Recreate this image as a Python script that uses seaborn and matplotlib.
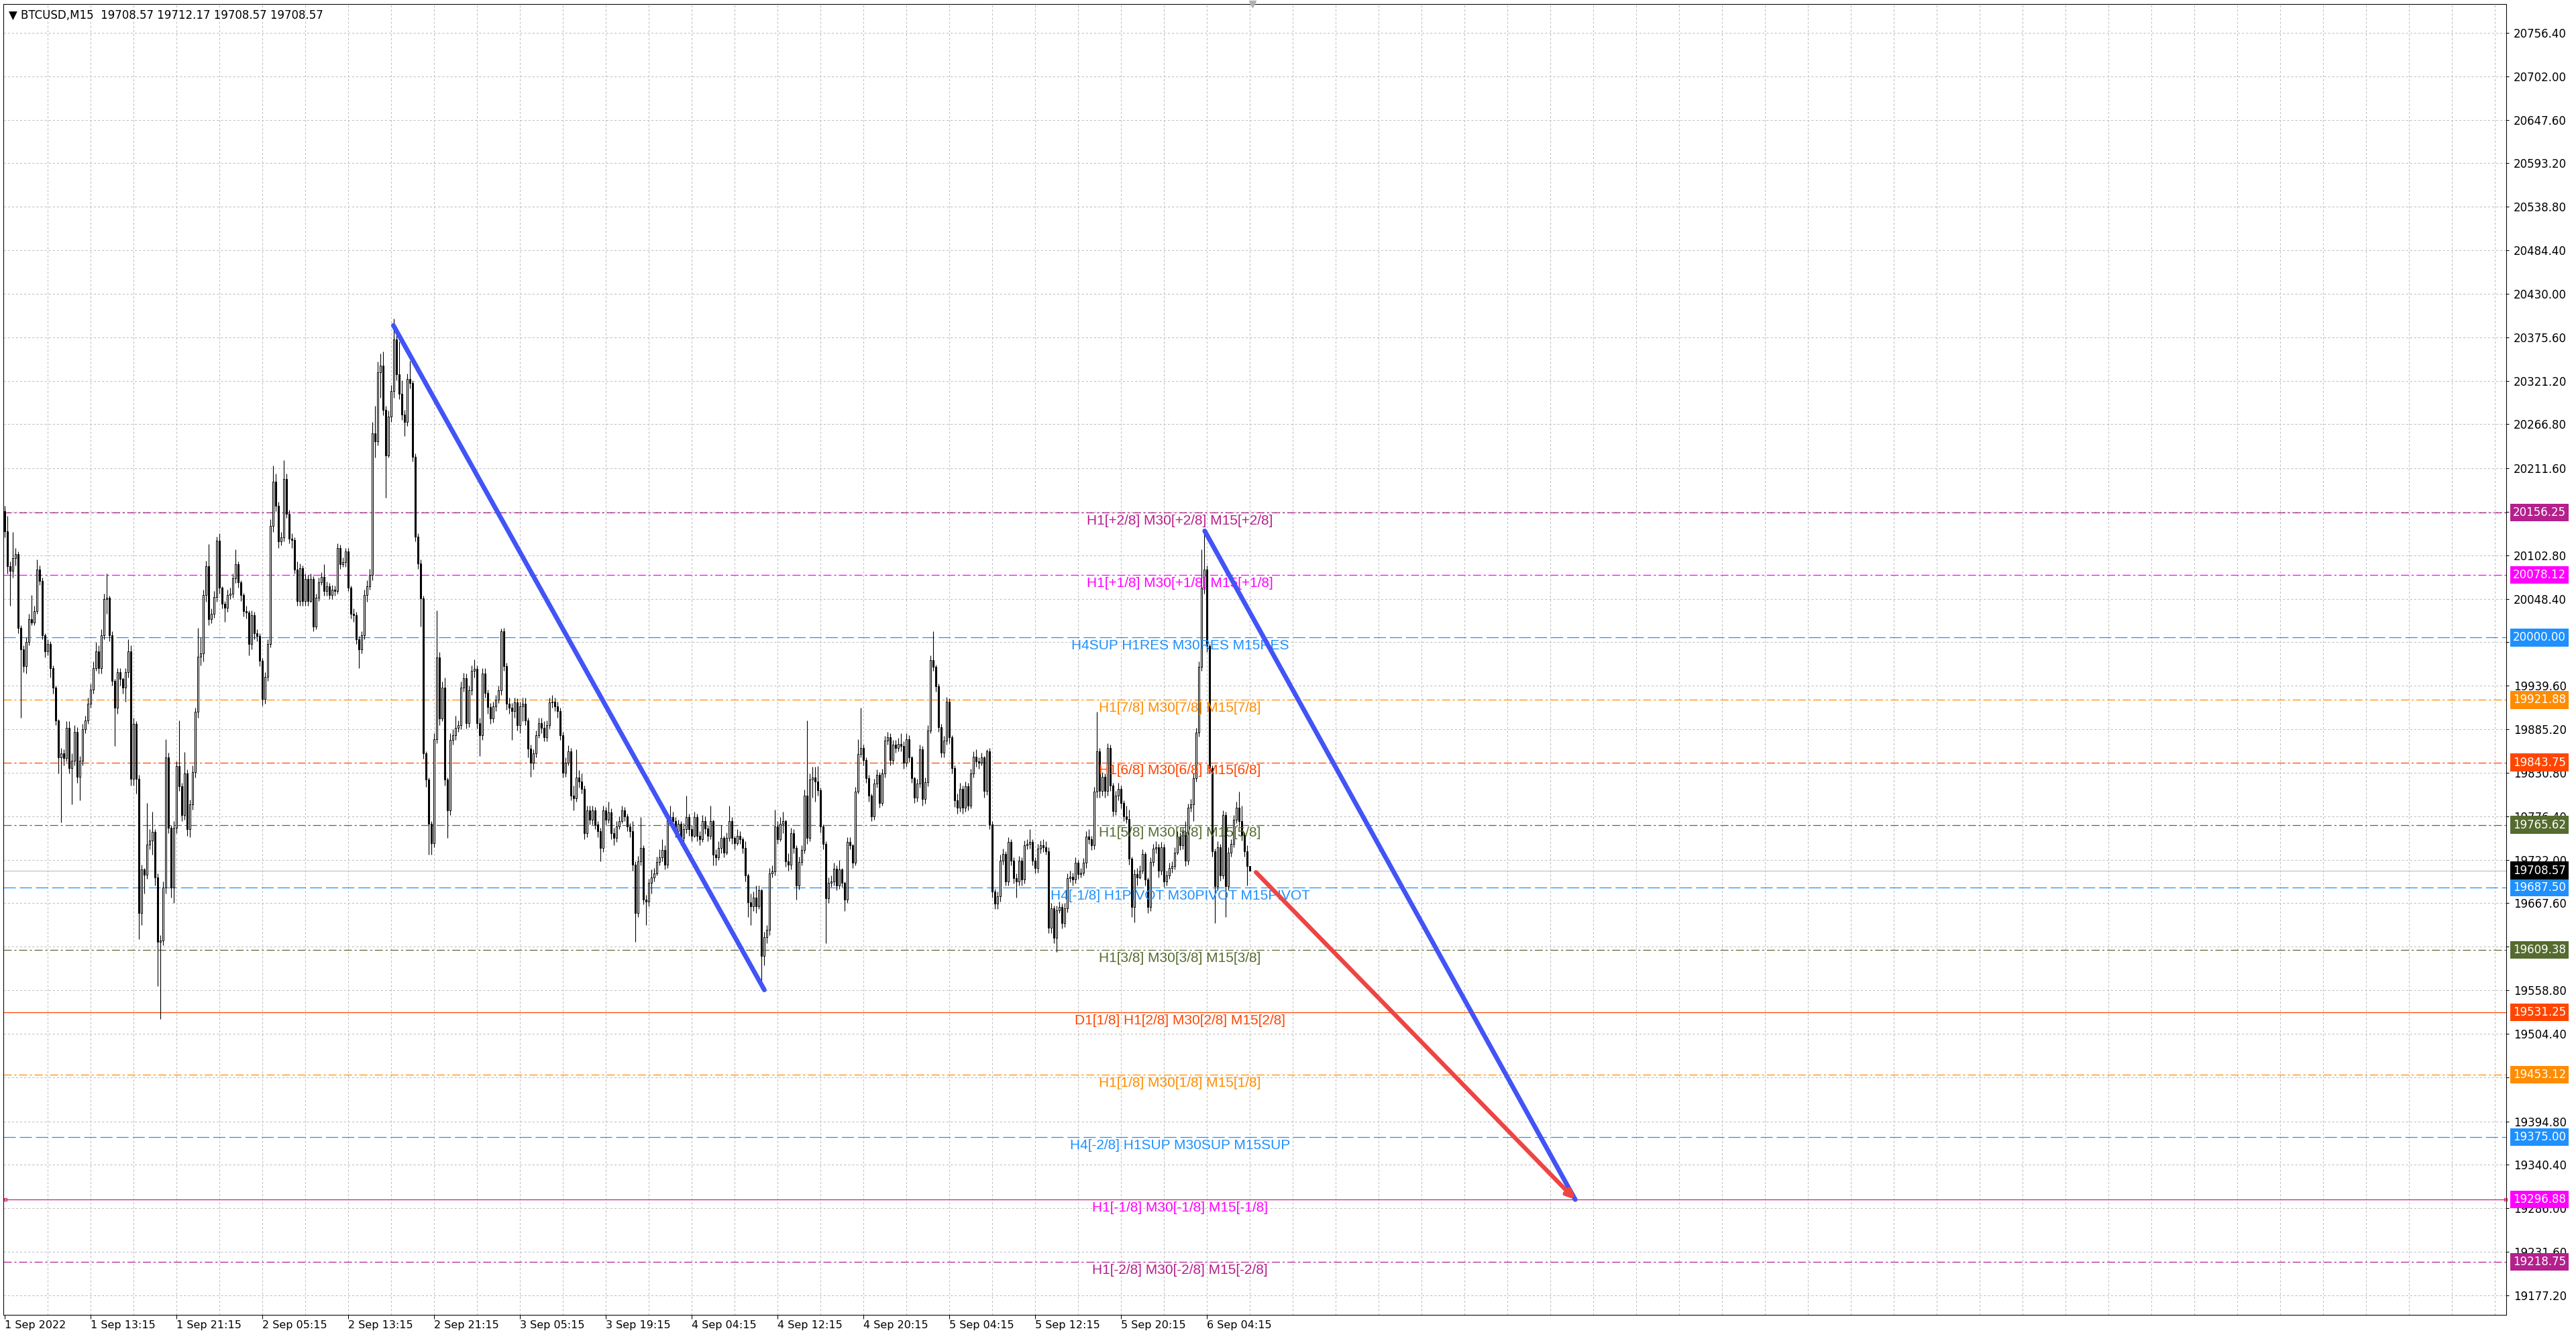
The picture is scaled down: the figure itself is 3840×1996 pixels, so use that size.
import numpy as np
import pandas as pd
import matplotlib.pyplot as plt
import seaborn as sns

sns.set_theme(style="white")
plt.rcParams['font.family'] = ['DejaVu Sans']
plt.rcParams['lines.scale_dashes'] = False

# ---- BTCUSD M15 candles ----
first_open = 20158
closes = [
    20133, 20089, 20083, 20099, 20104, 20012, 19985, 19964, 19994, 20023,
    20019, 20033, 20085, 20071, 20003, 19983, 19992, 19962, 19937, 19896,
    19850, 19855, 19849, 19887, 19837, 19846, 19882, 19826, 19846, 19885,
    19896, 19917, 19935, 19962, 19983, 19962, 20003, 20048, 20050, 20003,
    19946, 19912, 19957, 19948, 19937, 19957, 19983, 19823, 19892, 19823,
    19655, 19710, 19703, 19741, 19746, 19757, 19700, 19619, 19621, 19687,
    19850, 19762, 19687, 19762, 19839, 19814, 19778, 19830, 19760, 19791,
    19832, 19907, 19976, 19980, 20053, 20089, 20023, 20030, 20051, 20121,
    20062, 20042, 20037, 20053, 20055, 20074, 20092, 20069, 20053, 20033,
    20031, 19992, 20028, 20005, 20002, 19971, 19923, 19951, 19992, 20140,
    20195, 20165, 20120, 20125, 20198, 20155, 20124, 20122, 20085, 20046,
    20087, 20046, 20073, 20046, 20073, 20014, 20050, 20069, 20076, 20058,
    20064, 20053, 20060, 20058, 20112, 20092, 20094, 20108, 20062, 20030,
    20028, 19998, 19985, 20003, 20053, 20064, 20078, 20255, 20245, 20332,
    20340, 20285, 20228, 20276, 20308, 20373, 20329, 20305, 20279, 20270,
    20323, 20318, 20226, 20126, 20093, 20049, 19855, 19822, 19767, 19743,
    19873, 19975, 19899, 19937, 19822, 19784, 19872, 19878, 19887, 19890,
    19937, 19949, 19893, 19934, 19958, 19961, 19893, 19878, 19955, 19931,
    19913, 19899, 19914, 19922, 19934, 20008, 19964, 19917, 19912, 19908,
    19919, 19890, 19914, 19917, 19896, 19861, 19843, 19855, 19878, 19893,
    19887, 19875, 19890, 19919, 19920, 19914, 19908, 19878, 19831, 19843,
    19858, 19802, 19799, 19825, 19820, 19811, 19755, 19784, 19772, 19784,
    19766, 19758, 19737, 19784, 19772, 19781, 19755, 19749, 19764, 19770,
    19784, 19776, 19764, 19758, 19716, 19655, 19720, 19737, 19672, 19670,
    19693, 19700, 19705, 19719, 19725, 19734, 19716, 19772, 19775, 19770,
    19758, 19767, 19749, 19760, 19775, 19760, 19752, 19775, 19752, 19748,
    19770, 19761, 19752, 19770, 19728, 19725, 19737, 19749, 19731, 19749,
    19770, 19749, 19743, 19752, 19748, 19737, 19702, 19669, 19664, 19675,
    19664, 19684, 19602, 19625, 19634, 19705, 19707, 19764, 19748, 19767,
    19770, 19720, 19716, 19755, 19737, 19690, 19719, 19734, 19802, 19749,
    19822, 19825, 19820, 19809, 19764, 19742, 19674, 19693, 19695, 19711,
    19690, 19710, 19693, 19672, 19744, 19740, 19718, 19807, 19854, 19862,
    19847, 19824, 19802, 19776, 19817, 19828, 19793, 19830, 19871, 19875,
    19847, 19866, 19862, 19867, 19864, 19843, 19873, 19850, 19824, 19800,
    19817, 19860, 19798, 19819, 19884, 19972, 19963, 19939, 19888, 19856,
    19871, 19920, 19875, 19837, 19796, 19787, 19811, 19787, 19814, 19790,
    19830, 19851, 19845, 19843, 19850, 19808, 19858, 19766, 19682, 19667,
    19676, 19721, 19729, 19695, 19744, 19721, 19699, 19695, 19721, 19697,
    19740, 19742, 19744, 19721, 19712, 19736, 19740, 19738, 19733, 19637,
    19661, 19624, 19659, 19663, 19643, 19661, 19699, 19701, 19697, 19718,
    19704, 19706, 19718, 19751, 19748, 19740, 19807, 19858, 19808, 19826,
    19808, 19862, 19815, 19783, 19802, 19811, 19793, 19776, 19773, 19723,
    19663, 19704, 19700, 19708, 19729, 19697, 19663, 19719, 19736, 19738,
    19708, 19738, 19695, 19702, 19712, 19714, 19731, 19751, 19740, 19757,
    19721, 19787, 19791, 19824, 19881, 19963, 20062, 20085, 19989, 19837,
    19733, 19689, 19738, 19702, 19778, 19689, 19731, 19742, 19772, 19787,
    19770, 19753, 19733, 19714, 19708.57,
]
highs = [
    20165, 20152, 20095, 20132, 20112, 20108, 20015, 19990, 20000, 20030,
    20053, 20040, 20098, 20090, 20075, 20005, 19998, 19995, 19965, 19940,
    19898, 19862, 19860, 19895, 19895, 19855, 19890, 19888, 19852, 19892,
    19902, 19925, 19942, 19970, 19994, 19990, 20010, 20055, 20080, 20052,
    20008, 19948, 19962, 19962, 19950, 19962, 19998, 19990, 19900, 19895,
    19828, 19716, 19712, 19793, 19760, 19782, 19760, 19705, 19628, 19695,
    19873, 19856, 19765, 19770, 19845, 19896, 19818, 19857, 19835, 19797,
    19840, 19912, 20012, 20000, 20060, 20096, 20117, 20036, 20058, 20126,
    20130, 20064, 20046, 20060, 20062, 20080, 20110, 20095, 20072, 20056,
    20040, 20034, 20034, 20032, 20010, 20005, 19974, 19957, 19998, 20148,
    20215, 20205, 20170, 20132, 20222, 20205, 20160, 20130, 20125, 20095,
    20093, 20090, 20080, 20078, 20080, 20077, 20055, 20075, 20082, 20092,
    20070, 20068, 20066, 20065, 20118, 20116, 20100, 20112, 20112, 20065,
    20036, 20032, 20002, 20008, 20060, 20072, 20086, 20270, 20290, 20345,
    20355, 20358, 20290, 20284, 20316, 20399, 20385, 20370, 20322, 20285,
    20330, 20346, 20322, 20230, 20130, 20098, 20052, 19858, 19825, 19770,
    19880, 20034, 19982, 19945, 19950, 19825, 19880, 19885, 19902, 19896,
    19945, 19956, 19955, 19940, 19965, 19973, 19965, 19900, 19962, 19962,
    19935, 19918, 19920, 19928, 19940, 20011, 20012, 19968, 19925, 19918,
    19925, 19924, 19920, 19925, 19925, 19900, 19866, 19860, 19884, 19900,
    19900, 19895, 19896, 19925, 19928, 19925, 19920, 19912, 19882, 19850,
    19865, 19862, 19815, 19860, 19834, 19830, 19815, 19790, 19790, 19790,
    19788, 19770, 19762, 19790, 19788, 19795, 19786, 19762, 19770, 19776,
    19790, 19788, 19780, 19768, 19770, 19720, 19727, 19775, 19740, 19678,
    19698, 19710, 19712, 19726, 19735, 19748, 19740, 19780, 19790, 19782,
    19775, 19772, 19770, 19768, 19802, 19780, 19765, 19782, 19780, 19758,
    19778, 19776, 19765, 19790, 19772, 19735, 19745, 19765, 19752, 19756,
    19790, 19775, 19752, 19760, 19758, 19750, 19745, 19705, 19680, 19682,
    19690, 19690, 19686, 19632, 19640, 19712, 19715, 19785, 19770, 19775,
    19782, 19772, 19730, 19762, 19760, 19740, 19726, 19740, 19810, 19896,
    19830, 19838, 19838, 19839, 19812, 19766, 19745, 19700, 19702, 19718,
    19715, 19722, 19712, 19695, 19750, 19750, 19742, 19813, 19873, 19912,
    19866, 19850, 19828, 19805, 19823, 19835, 19832, 19836, 19877, 19882,
    19880, 19872, 19872, 19874, 19880, 19870, 19880, 19878, 19852, 19826,
    19823, 19866, 19864, 19825, 19890, 19978, 20008, 19966, 19942, 19892,
    19877, 19926, 19924, 19878, 19840, 19805, 19818, 19815, 19820, 19818,
    19836, 19858, 19860, 19850, 19856, 19852, 19860, 19862, 19770, 19686,
    19682, 19728, 19736, 19733, 19750, 19748, 19725, 19705, 19727, 19725,
    19746, 19748, 19760, 19748, 19725, 19742, 19746, 19748, 19745, 19738,
    19668, 19665, 19665, 19670, 19667, 19668, 19705, 19708, 19706, 19725,
    19722, 19712, 19724, 19758, 19760, 19752, 19813, 19907, 19862, 19832,
    19830, 19868, 19866, 19818, 19808, 19818, 19815, 19796, 19790, 19785,
    19726, 19710, 19712, 19715, 19735, 19732, 19700, 19725, 19742, 19745,
    19742, 19744, 19742, 19708, 19718, 19720, 19738, 19758, 19756, 19762,
    19770, 19792, 19798, 19830, 19887, 19970, 20110, 20133, 20090, 19992,
    19840, 19736, 19745, 19742, 19784, 19782, 19738, 19748, 19778, 19795,
    19807, 19790, 19756, 19740, 19712.17,
]
lows = [
    20125, 20080, 20040, 20075, 20090, 20005, 19900, 19957, 19955, 19990,
    20015, 20015, 20030, 20066, 19998, 19975, 19978, 19950, 19930, 19890,
    19830, 19769, 19840, 19845, 19830, 19791, 19840, 19818, 19796, 19840,
    19880, 19892, 19912, 19930, 19958, 19955, 19955, 19998, 20030, 19995,
    19940, 19864, 19905, 19940, 19930, 19920, 19950, 19815, 19815, 19805,
    19623, 19640, 19680, 19698, 19735, 19728, 19690, 19564, 19523, 19615,
    19680, 19755, 19675, 19668, 19755, 19808, 19770, 19772, 19752, 19750,
    19785, 19825, 19900, 19965, 19970, 20045, 20015, 20018, 20025, 20045,
    20055, 20036, 20020, 20032, 20048, 20050, 20068, 20062, 20046, 20026,
    20024, 19978, 19985, 19998, 19995, 19964, 19915, 19917, 19946, 19988,
    20132, 20158, 20112, 20115, 20120, 20150, 20118, 20112, 20080, 20040,
    20040, 20040, 20040, 20040, 20044, 20008, 20010, 20046, 20066, 20052,
    20052, 20048, 20048, 20052, 20055, 20086, 20088, 20088, 20058, 20024,
    20020, 19992, 19962, 19980, 19998, 20045, 20060, 20072, 20225, 20240,
    20300, 20278, 20175, 20225, 20270, 20300, 20322, 20298, 20272, 20252,
    20265, 20312, 20220, 20120, 20086, 20014, 19848, 19813, 19728, 19728,
    19738, 19868, 19890, 19895, 19815, 19749, 19778, 19866, 19872, 19882,
    19885, 19932, 19886, 19888, 19928, 19950, 19886, 19852, 19872, 19925,
    19905, 19892, 19894, 19908, 19918, 19928, 19958, 19910, 19905, 19872,
    19900, 19884, 19880, 19895, 19890, 19850, 19826, 19835, 19850, 19874,
    19880, 19870, 19870, 19886, 19912, 19908, 19900, 19872, 19825, 19826,
    19840, 19796, 19784, 19795, 19812, 19805, 19748, 19750, 19766, 19766,
    19760, 19750, 19720, 19732, 19765, 19768, 19748, 19740, 19744, 19760,
    19768, 19770, 19758, 19750, 19708, 19619, 19650, 19715, 19666, 19640,
    19664, 19680, 19695, 19702, 19715, 19720, 19710, 19712, 19765, 19762,
    19750, 19752, 19740, 19744, 19755, 19752, 19745, 19750, 19745, 19740,
    19744, 19754, 19745, 19748, 19715, 19715, 19722, 19730, 19725, 19728,
    19745, 19742, 19735, 19740, 19742, 19730, 19695, 19650, 19640, 19658,
    19655, 19660, 19560, 19590, 19618, 19628, 19700, 19702, 19742, 19745,
    19755, 19713, 19708, 19710, 19730, 19672, 19685, 19715, 19730, 19742,
    19745, 19800, 19795, 19802, 19756, 19735, 19618, 19668, 19688, 19690,
    19684, 19686, 19688, 19658, 19668, 19735, 19712, 19715, 19805, 19850,
    19840, 19818, 19795, 19770, 19772, 19812, 19787, 19790, 19825, 19866,
    19840, 19842, 19856, 19858, 19858, 19836, 19838, 19844, 19818, 19793,
    19795, 19812, 19790, 19792, 19814, 19880, 19958, 19932, 19882, 19850,
    19850, 19866, 19868, 19830, 19788, 19780, 19782, 19780, 19782, 19784,
    19786, 19825, 19838, 19836, 19840, 19800, 19803, 19760, 19675, 19660,
    19660, 19670, 19716, 19690, 19690, 19715, 19692, 19675, 19690, 19690,
    19692, 19735, 19736, 19715, 19705, 19706, 19730, 19732, 19728, 19630,
    19630, 19618, 19607, 19655, 19636, 19638, 19656, 19694, 19690, 19692,
    19698, 19700, 19702, 19712, 19742, 19734, 19735, 19800, 19800, 19802,
    19800, 19802, 19808, 19776, 19778, 19796, 19786, 19770, 19768, 19716,
    19650, 19644, 19690, 19698, 19705, 19690, 19655, 19658, 19714, 19730,
    19700, 19703, 19688, 19690, 19698, 19706, 19710, 19728, 19734, 19735,
    19714, 19716, 19782, 19770, 19820, 19876, 19958, 20055, 19982, 19830,
    19726, 19643, 19684, 19696, 19698, 19650, 19684, 19726, 19738, 19768,
    19764, 19746, 19726, 19690, 19708.57,
]

header = "▼ BTCUSD,M15  19708.57 19712.17 19708.57 19708.57"
last_price = 19708.57

time_labels = ["1 Sep 2022", "1 Sep 13:15", "1 Sep 21:15", "2 Sep 05:15", "2 Sep 13:15",
               "2 Sep 21:15", "3 Sep 05:15", "3 Sep 19:15", "4 Sep 04:15", "4 Sep 12:15",
               "4 Sep 20:15", "5 Sep 04:15", "5 Sep 12:15", "5 Sep 20:15", "6 Sep 04:15"]
# grid levels of the price scale; labels hidden under a price tag are left blank
price_grid = [20756.40, 20702.00, 20647.60, 20593.20, 20538.80, 20484.40,
              20430.00, 20375.60, 20321.20, 20266.80, 20211.60, 20157.20,
              20102.80, 20048.40, 19994.00, 19939.60, 19885.20, 19830.80,
              19776.40, 19722.00, 19667.60, 19613.20, 19558.80, 19504.40,
              19450.00, 19394.80, 19340.40, 19286.00, 19231.60, 19177.20]
price_ticks = ["20756.40", "20702.00", "20647.60", "20593.20", "20538.80", "20484.40",
               "20430.00", "20375.60", "20321.20", "20266.80", "20211.60", "20157.20",
               "20102.80", "20048.40", "", "19939.60", "19885.20", "19830.80",
               "19776.40", "19722.00", "19667.60", "19613.20", "19558.80", "19504.40",
               "", "19394.80", "19340.40", "19286.00", "19231.60", "19177.20"]

# Murrey math levels
level_prices = [20156.25, 20078.12, 20000.00, 19921.88, 19843.75, 19765.62, 19687.50,
                19609.38, 19531.25, 19453.12, 19375.00, 19296.88, 19218.75]
level_names = ["H1[+2/8] M30[+2/8] M15[+2/8]", "H1[+1/8] M30[+1/8] M15[+1/8]",
               "H4SUP H1RES M30RES M15RES", "H1[7/8] M30[7/8] M15[7/8]",
               "H1[6/8] M30[6/8] M15[6/8]", "H1[5/8] M30[5/8] M15[5/8]",
               "H4[-1/8] H1PIVOT M30PIVOT M15PIVOT", "H1[3/8] M30[3/8] M15[3/8]",
               "D1[1/8] H1[2/8] M30[2/8] M15[2/8]", "H1[1/8] M30[1/8] M15[1/8]",
               "H4[-2/8] H1SUP M30SUP M15SUP", "H1[-1/8] M30[-1/8] M15[-1/8]",
               "H1[-2/8] M30[-2/8] M15[-2/8]"]
level_colors = ["#B4208C", "#FF00FF", "#1E90FF", "#FF8C00", "#FF4500", "#556B2F", "#1E90FF",
                "#556B2F", "#FF4500", "#FF8C00", "#1E90FF", "#FF00FF", "#B4208C"]
level_line_colors = ["#B4208C", "#FF00FF", "#1E90FF", "#FF8C00", "#FF4500", "#556B2F", "#1E90FF",
                     "#556B2F", "#FF4500", "#FF8C00", "#1E90FF", "#C8207F", "#B4208C"]
level_styles = ["dashdot", "dashdot", "dash", "dashdot", "dashdot", "dashdot", "dash",
                "dashdot", "solid", "dashdot", "dash", "solid", "dashdot"]

# trend lines drawn on the chart (bar index, price)
trend_bars = [144.85, 283.1, 447.2, 585.3]
trend_prices = [20390.5, 19559.2, 20133.4, 19296.88]
trend_ids = ["down1", "down1", "down2", "down2"]
arrow_bars = [466.3, 585.3]
arrow_prices = [19706.4, 19296.88]

# ---- figure ----
W, H = 3840, 1996
fig = plt.figure(figsize=(W / 100, H / 100), dpi=100)
fig.patch.set_facecolor("white")
ax = fig.add_axes([5 / W, 36 / H, 3731 / W, 1954 / H])
ax.set_facecolor("white")
ax.set_xlim(-0.5, 932.25)
ax.set_ylim(19152.7, 20792.5)

grid_kw = dict(color="#BEBEBE", lw=0.75, dashes=(2.2, 2.2), zorder=0.5)
for b in range(16, 933, 16):
    ax.axvline(b, **grid_kw)
for v in price_grid:
    ax.axhline(v, **grid_kw)

dash_map = {"dashdot": (8.6, 2.9, 2.2, 2.9), "dash": (13.0, 4.3), "solid": None}
for p, lc, st in zip(level_prices, level_line_colors, level_styles):
    ln = ax.axhline(p, color=lc, lw=0.9, zorder=1)
    if dash_map[st] is not None:
        ln.set_dashes(dash_map[st])
ax.axhline(last_price, color="#BDBDBD", lw=0.8, zorder=1)

# candles
c = np.array(closes, dtype=float)
o = np.array([first_open] + closes[:-1], dtype=float)
hi = np.array(highs, dtype=float)
lo = np.array(lows, dtype=float)
x = np.arange(len(c))
top = np.maximum(o, c)
bot = np.minimum(o, c)
ax.vlines(x, np.minimum(lo, bot), np.maximum(hi, top), color="black", lw=0.8, zorder=2)
up = c >= o
hgt = np.maximum(top - bot, 0.8)
ax.bar(x[up], hgt[up], bottom=bot[up], width=0.55, color="white", edgecolor="black",
       linewidth=0.75, zorder=3)
ax.bar(x[~up], hgt[~up], bottom=bot[~up], width=0.55, color="black", edgecolor="black",
       linewidth=0.75, zorder=3)

# level labels
for p, name, col in zip(level_prices, level_names, level_colors):
    ax.annotate(name, xy=(438, p), xytext=(0, -2), textcoords="offset points",
                ha="center", va="top", color=col, fontsize=15, family="Liberation Sans",
                zorder=4)

# trend lines and arrow
trend = pd.DataFrame({"bar": trend_bars, "price": trend_prices, "line": trend_ids})
sns.lineplot(data=trend, x="bar", y="price", units="line", estimator=None, sort=False,
             color="#4254F5", lw=5.0, ax=ax, zorder=5, legend=False)
ax.annotate("", xy=(arrow_bars[1], arrow_prices[1]), xytext=(arrow_bars[0], arrow_prices[0]),
            arrowprops=dict(arrowstyle="-|>", color="#EE4444", lw=4.6, mutation_scale=18,
                            shrinkA=0, shrinkB=0), zorder=5)

# anchor squares of the horizontal line object
ax.plot([0.2, 931.9], [level_prices[11]] * 2, "s", mfc="none", mec="#D02060", ms=3.5,
        mew=0.8, clip_on=False, zorder=6)
# chart shift marker
ax.plot([len(c)], [20792.5], marker="v", color="#B0B0B0", ms=7, clip_on=False, zorder=6)

# axes
ax.set_xlabel("")
ax.set_ylabel("")
ax.set_xticks([32 * i for i in range(len(time_labels))])
ax.set_xticklabels(time_labels, ha="left", fontsize=11.5)
ax.yaxis.tick_right()
ax.set_yticks(price_grid)
ax.set_yticklabels(price_ticks, fontsize=12)
ax.tick_params(axis="x", direction="out", length=4, width=0.75, pad=1.5, colors="black",
               bottom=True)
ax.tick_params(axis="y", direction="out", length=3, width=0.75, pad=5, colors="black",
               right=True, left=False)
for s in ax.spines.values():
    s.set_color("black")
    s.set_linewidth(0.75)

# price tags on the right axis
tag_prices = level_prices + [last_price]
tag_colors = level_colors[:] + ["black"]
for p, col in zip(tag_prices, tag_colors):
    ax.annotate(f"{p:.2f}", xy=(1, p), xycoords=("axes fraction", "data"),
                xytext=(7.0, 0), textcoords="offset points", ha="left", va="center",
                fontsize=12, color="white", annotation_clip=False, zorder=10,
                bbox=dict(boxstyle="square,pad=0.25", fc=col, ec="none"))

ax.annotate(header, xy=(0, 1), xycoords="axes fraction", xytext=(6, -6),
            textcoords="offset points", ha="left", va="top", fontsize=12, color="black",
            zorder=6)

fig.savefig("out.png", dpi=100)
